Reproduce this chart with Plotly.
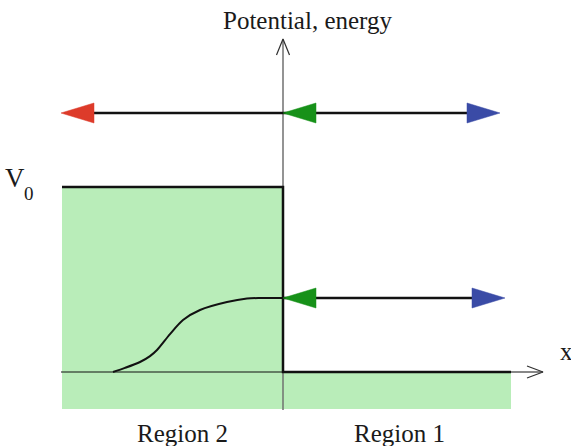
import plotly.graph_objects as go

# ---- data (chart units: x in arbitrary length units, energy in units of V0) ----
V0 = 1.0
E_high = 1.40            # energy above the barrier
E_low = 0.40             # energy below the barrier
region_left = -4.42      # left edge of region 2
region_right = 4.56      # right edge of region 1
floor_level = -0.20      # bottom of shaded area
x_axis_end = 5.20
y_axis_top = 1.80
y_axis_bottom = -0.205

# arrow tips (x) for the energy levels
high_reflect_tip = -4.44   # red, travelling left in region 2
high_incident_tip = 0.0    # green, reflected at boundary
high_trans_tip = 4.34      # blue, travelling right
low_incident_tip = 0.0
low_trans_tip = 4.44

# decaying wavefunction inside the barrier (region 2)
curve_x = [-3.40, -3.16, -2.86, -2.66, -2.52, -2.26, -2.00, -1.66, -1.12, -0.72, -0.46, 0.0]
curve_y = [0.0, 0.022, 0.054, 0.086, 0.119, 0.205, 0.281, 0.335, 0.378, 0.397, 0.400, 0.400]

# ---- styling ----
W, H = 571, 446
PX_X = 50.0     # pixels per x unit
PX_Y = 185.0    # pixels per energy unit
ORIGIN_PX = (283, 372)
X0 = -ORIGIN_PX[0] / PX_X
X1 = (W - ORIGIN_PX[0]) / PX_X
Y1 = ORIGIN_PX[1] / PX_Y
Y0 = -(H - ORIGIN_PX[1]) / PX_Y

GREEN_FILL = "#b9edb9"
RED = "#dd3b2a"
GREEN = "#179119"
BLUE = "#3a4ba6"
SERIF = "Liberation Serif, Times New Roman, serif"

HEAD_LEN = 33 / PX_X
HEAD_HALF = 10 / PX_Y

fig = go.Figure()

# shaded regions
fig.add_trace(go.Scatter(
    x=[region_left, 0, 0, region_left, region_left],
    y=[floor_level, floor_level, V0, V0, floor_level],
    fill="toself", fillcolor=GREEN_FILL, mode="none", hoverinfo="skip"))
fig.add_trace(go.Scatter(
    x=[0, region_right, region_right, 0, 0],
    y=[floor_level, floor_level, 0, 0, floor_level],
    fill="toself", fillcolor=GREEN_FILL, mode="none", hoverinfo="skip"))

# axes
fig.add_trace(go.Scatter(x=[0, 0], y=[y_axis_bottom, y_axis_top], mode="lines",
                         line=dict(color="#707070", width=1.5), hoverinfo="skip"))
ax_hl = 16 / PX_Y
ax_hw = 6.5 / PX_X
fig.add_trace(go.Scatter(x=[-ax_hw, 0, ax_hw], y=[y_axis_top - ax_hl, y_axis_top, y_axis_top - ax_hl],
                         mode="lines", line=dict(color="#303030", width=1.2), hoverinfo="skip"))
fig.add_trace(go.Scatter(x=[region_left - 0.02, x_axis_end], y=[0, 0], mode="lines",
                         line=dict(color="#111111", width=1.2), hoverinfo="skip"))
xh_l = 16 / PX_X
xh_w = 6 / PX_Y
fig.add_trace(go.Scatter(x=[x_axis_end - xh_l, x_axis_end, x_axis_end - xh_l],
                         y=[xh_w, 0, -xh_w], mode="lines",
                         line=dict(color="#303030", width=1.2), hoverinfo="skip"))

# potential step
fig.add_trace(go.Scatter(x=[region_left, 0, 0, region_right], y=[V0, V0, 0, 0], mode="lines",
                         line=dict(color="#111111", width=2.5), hoverinfo="skip"))

# wavefunction
fig.add_trace(go.Scatter(x=curve_x, y=curve_y, mode="lines",
                         line=dict(color="#111111", width=2, shape="spline", smoothing=0.8),
                         hoverinfo="skip"))


def head(tip_x, level, direction, color):
    base = tip_x - direction * HEAD_LEN
    fig.add_trace(go.Scatter(x=[tip_x, base, base, tip_x],
                             y=[level, level + HEAD_HALF, level - HEAD_HALF, level],
                             fill="toself", fillcolor=color, mode="lines",
                             line=dict(color=color, width=0.5), hoverinfo="skip"))
    return base


# high energy level arrows
fig.add_trace(go.Scatter(
    x=[high_reflect_tip + HEAD_LEN, high_trans_tip - HEAD_LEN], y=[E_high, E_high],
    mode="lines", line=dict(color="#111111", width=2.5), hoverinfo="skip"))
head(high_reflect_tip, E_high, -1, RED)
head(high_incident_tip, E_high, -1, GREEN)
head(high_trans_tip, E_high, 1, BLUE)

# low energy level arrows
fig.add_trace(go.Scatter(
    x=[low_incident_tip, low_trans_tip - HEAD_LEN], y=[E_low, E_low],
    mode="lines", line=dict(color="#111111", width=2.5), hoverinfo="skip"))
head(low_incident_tip, E_low, -1, GREEN)
head(low_trans_tip, E_low, 1, BLUE)


def label(text, xp, yp, size):
    fig.add_annotation(x=(xp - ORIGIN_PX[0]) / PX_X, y=(ORIGIN_PX[1] - yp) / PX_Y,
                       text=text, showarrow=False, xanchor="center", yanchor="middle",
                       font=dict(family=SERIF, size=size, color="#1a1a1a"))


label("Potential, energy", 307, 20, 25)
label("Region 2", 182, 433, 25)
label("Region 1", 399, 433, 25)
label("V", 15, 178, 27)
label("0", 29, 193, 19)
label("x", 566, 351, 25)

fig.update_layout(
    width=W, height=H, margin=dict(l=0, r=0, t=0, b=0),
    paper_bgcolor="white", plot_bgcolor="white", showlegend=False,
    xaxis=dict(range=[X0, X1], visible=False, fixedrange=True),
    yaxis=dict(range=[Y0, Y1], visible=False, fixedrange=True),
)

fig.write_html("out.html", config={"displayModeBar": False},
               post_script="document.body.style.margin='0';document.body.style.overflow='hidden';")
